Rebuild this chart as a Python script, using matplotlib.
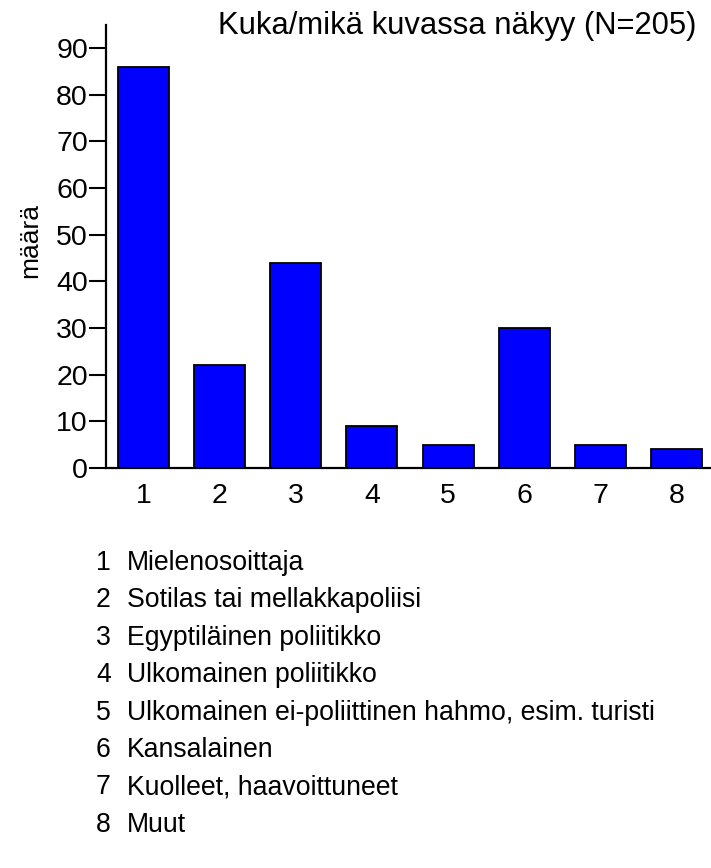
import matplotlib
matplotlib.use('Agg')
import matplotlib.pyplot as plt

plt.rcParams['font.family'] = ['Liberation Sans', 'DejaVu Sans']

categories = [1, 2, 3, 4, 5, 6, 7, 8]
counts = [86, 22, 44, 9, 5, 30, 5, 4]
labels = [
    'Mielenosoittaja',
    'Sotilas tai mellakkapoliisi',
    'Egyptiläinen poliitikko',
    'Ulkomainen poliitikko',
    'Ulkomainen ei-poliittinen hahmo, esim. turisti',
    'Kansalainen',
    'Kuolleet, haavoittuneet',
    'Muut',
]
title = 'Kuka/mikä kuvassa näkyy (N=205)'
yticks = [0, 10, 20, 30, 40, 50, 60, 70, 80, 90]

W, H = 711, 868
fig = plt.figure(figsize=(W / 100, H / 100), dpi=100)
ax = fig.add_axes([106 / W, 1 - 468 / H, (W - 106) / W, (468 - 25) / H])

ax.bar(categories, counts, width=0.67, color='#0000ff', edgecolor='black', linewidth=1.3)
ax.set_xlim(0.51, 8.45)
ax.set_ylim(0, 94.9)
ax.set_xticks(categories)
ax.set_yticks(yticks)
ax.tick_params(axis='y', direction='out', length=12, width=1.5, labelsize=20.5, pad=1)
ax.tick_params(axis='x', length=0, labelsize=20.5, pad=11)
for s in ['top', 'right']:
    ax.spines[s].set_visible(False)
for s in ['left', 'bottom']:
    ax.spines[s].set_linewidth(1.6)

fig.text(30 / W, 1 - 240 / H, 'määrä', rotation=90, fontsize=19, ha='center', va='center')
fig.text(457 / W, 1 - 26 / H, title, fontsize=22.3, ha='center', va='center')

# numbered key below the chart
for i, (c, lab) in enumerate(zip(categories, labels)):
    y = 1 - (563 + i * 37.4) / H
    fig.text(96 / W, y, str(c), fontsize=19.2, ha='left', va='center')
    fig.text(127 / W, y, lab, fontsize=19.2, ha='left', va='center')

fig.savefig('out.png', dpi=100)
